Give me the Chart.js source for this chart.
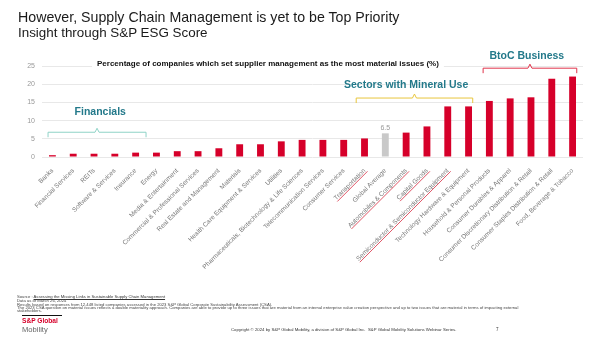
<!DOCTYPE html>
<html>
<head>
<meta charset="utf-8">
<script src="https://cdn.jsdelivr.net/npm/chart.js@4.4.0/dist/chart.umd.min.js"></script>
<style>
  html, body { margin:0; padding:0; background:#fff; }
  #slide { position:relative; width:602px; height:337px; overflow:hidden; font-family:'Liberation Sans', Arial, sans-serif; }
  #slide canvas { position:absolute; left:0; top:0; }
  .t1 { position:absolute; left:18px; top:9px; font-size:14.2px; color:#1a1a1a; white-space:nowrap; }
  .t2 { position:absolute; left:18px; top:24.5px; font-size:13.4px; color:#1a1a1a; white-space:nowrap; }
  .note { position:absolute; left:17px; font-size:4.2px; color:#444; white-space:nowrap; line-height:1; }
  .note a { color:#333; text-decoration:underline; }
  .logo-bar { position:absolute; left:22px; top:315px; width:40px; height:1.2px; background:#111; }
  .logo1 { position:absolute; left:22px; top:317px; font-size:6.6px; font-weight:bold; color:#d6002a; white-space:nowrap; }
  .logo2 { position:absolute; left:22px; top:324.5px; font-size:7.6px; color:#666; white-space:nowrap; }
  .copy { position:absolute; left:231px; top:327px; font-size:4.3px; color:#333; white-space:nowrap; }
  .page { position:absolute; left:496px; top:327px; font-size:4.5px; color:#333; }
</style>
</head>
<body>
<div id="slide">
  <canvas id="c" width="602" height="337"></canvas>
  <div class="t1">However, Supply Chain Management is yet to be Top Priority</div>
  <div class="t2">Insight through S&amp;P ESG Score</div>
  <div class="note" style="top:295px">Source : <a>Assessing the Missing Links in Sustainable Supply Chain Management</a></div>
  <div class="note" style="top:299px">Data as of March 26, 2024</div>
  <div class="note" style="top:302.5px">Results based on responses from 12,448 listed companies assessed in the 2023 S&amp;P Global Corporate Sustainability Assessment (CSA).</div>
  <div class="note" style="top:305.5px">The 2023 CSA question on material issues reflects a double materiality approach. Companies are able to provide up to three issues that are material from an internal enterprise value creation perspective and up to two issues that are material in terms of impacting external</div>
  <div class="note" style="top:309px">stakeholders.</div>
  <div class="logo-bar"></div>
  <div class="logo1">S&amp;P Global</div>
  <div class="logo2">Mobility</div>
  <div class="copy">Copyright © 2024 by S&amp;P Global Mobility, a division of S&amp;P Global Inc.&nbsp;&nbsp;S&amp;P Global Mobility Solutions Webinar Series.</div>
  <div class="page">7</div>
</div>
<script>
// sectors, sorted by share of companies naming supplier management as a top material issue
const sectors = [
  'Banks', 'Financial Services', 'REITs', 'Software & Services', 'Insurance', 'Energy',
  'Media & Entertainment', 'Commercial & Professional Services', 'Real Estate and Management',
  'Materials', 'Health Care Equipment & Services', 'Utilities',
  'Pharmaceuticals, Biotechnology & Life Sciences', 'Telecommunication Services',
  'Consumer Services', 'Transportation', 'Global Average', 'Automobiles & Components',
  'Capital Goods', 'Semiconductor & Semiconductor Equipment', 'Technology Hardware & Equipment',
  'Household & Personal Products', 'Consumer Durables & Apparel',
  'Consumer Discretionary Distribution & Retail', 'Consumer Staples Distribution & Retail',
  'Food, Beverage & Tobacco'
];
const shares = [0.5, 0.9, 0.9, 0.9, 1.2, 1.2, 1.6, 1.6, 2.4, 3.5, 3.5, 4.3, 4.7, 4.7, 4.7, 5.1,
                6.5, 6.7, 8.4, 13.9, 13.9, 15.4, 16.1, 16.4, 21.5, 22.1];
const yTicks = [0, 5, 10, 15, 20, 25];
const averageLabel = 'Global Average';
const underlined = ['Transportation', 'Automobiles & Components', 'Capital Goods',
                    'Semiconductor & Semiconductor Equipment'];

const RED = '#d6002a', GREY = '#c9c9c9', TEAL = '#23798a';
const FONT = "'Liberation Sans', Arial, sans-serif";

// sector groups: [label, from index, to index, label centre, bracket colour, label y, bracket y]
const groups = [
  ['Financials', -0.21, 4.5, 2.3, '#8fd3c7', 12.4, 6.8],
  ['Sectors with Mineral Use', 14.6, 20.2, 17.0, '#e8c63c', 19.7, 16.2],
  ['BtoC Business', 20.7, 25.2, 22.8, '#e0334a', 27.6, 24.4]
];

const overlay = {
  id: 'overlay',
  afterDraw(chart) {
    const ctx = chart.ctx, x = chart.scales.x, y = chart.scales.y;
    ctx.save();

    // heading over the plot, on a white band
    ctx.font = 'bold 8px ' + FONT;
    const head = 'Percentage of companies which set supplier management as the most material issues (%)';
    const hw = ctx.measureText(head).width;
    ctx.fillStyle = '#fff';
    ctx.fillRect(92, 58, hw + 10, 12);
    ctx.fillStyle = '#111';
    ctx.textBaseline = 'middle';
    ctx.textAlign = 'left';
    ctx.fillText(head, 97, 64);

    // brackets and group names
    groups.forEach(([name, a, b, mid, col, ly, by]) => {
      const x0 = x.getPixelForValue(a), x1 = x.getPixelForValue(b);
      const yy = y.getPixelForValue(by), xm = (x0 + x1) / 2;
      ctx.strokeStyle = col;
      ctx.lineWidth = 1;
      ctx.beginPath();
      ctx.moveTo(x0, yy + 5); ctx.lineTo(x0, yy); ctx.lineTo(xm - 2, yy);
      ctx.lineTo(xm, yy - 4); ctx.lineTo(xm + 2, yy); ctx.lineTo(x1, yy); ctx.lineTo(x1, yy + 5);
      ctx.stroke();
      ctx.fillStyle = TEAL;
      ctx.font = 'bold 10.5px ' + FONT;
      ctx.textAlign = 'center';
      ctx.fillText(name, x.getPixelForValue(mid), y.getPixelForValue(ly));
    });

    // value above the global average bar
    const ai = sectors.indexOf(averageLabel);
    const bar = chart.getDatasetMeta(0).data[ai];
    ctx.fillStyle = '#999';
    ctx.font = '7px ' + FONT;
    ctx.textAlign = 'center';
    ctx.textBaseline = 'bottom';
    ctx.fillText(String(shares[ai]), bar.x, bar.y - 2);

    // red underline under the highlighted sector names
    const items = x.getLabelItems();
    ctx.strokeStyle = '#d9364a';
    ctx.lineWidth = 0.8;
    ctx.font = '6.5px ' + FONT;
    items.forEach((it, i) => {
      if (!underlined.includes(sectors[i])) return;
      const [tx, ty] = it.options.translation;
      const w = ctx.measureText(sectors[i]).width;
      const off = it.textOffset + 3.2;
      ctx.save();
      ctx.translate(tx, ty);
      ctx.rotate(it.options.rotation);
      ctx.beginPath();
      ctx.moveTo(-w, off);
      ctx.lineTo(1, off);
      ctx.stroke();
      ctx.restore();
    });
    ctx.restore();
  }
};

new Chart(document.getElementById('c'), {
  type: 'bar',
  data: {
    labels: sectors,
    datasets: [{
      data: shares,
      backgroundColor: c => sectors[c.dataIndex] === averageLabel ? GREY : RED,
      barPercentage: 0.33,
      categoryPercentage: 1
    }]
  },
  options: {
    responsive: false,
    animation: false,
    layout: { padding: { top: 66, right: 19, left: 0, bottom: 0 } },
    plugins: { legend: { display: false }, tooltip: { enabled: false } },
    scales: {
      x: {
        grid: { display: false },
        border: { display: false },
        afterFit(s) { s.height = 180; },
        ticks: {
          autoSkip: false, maxRotation: 45, minRotation: 45, padding: 2,
          color: '#777', font: { family: FONT, size: 6.5 }
        }
      },
      y: {
        min: 0, max: 25,
        afterFit(s) { s.width = 42; },
        afterBuildTicks(s) { s.ticks = yTicks.map(v => ({ value: v })); },
        grid: { color: '#e8e8e8', drawTicks: false },
        border: { display: false },
        ticks: { padding: 7, color: '#999', font: { family: FONT, size: 7 } }
      }
    }
  },
  plugins: [overlay]
});
</script>
</body>
</html>
